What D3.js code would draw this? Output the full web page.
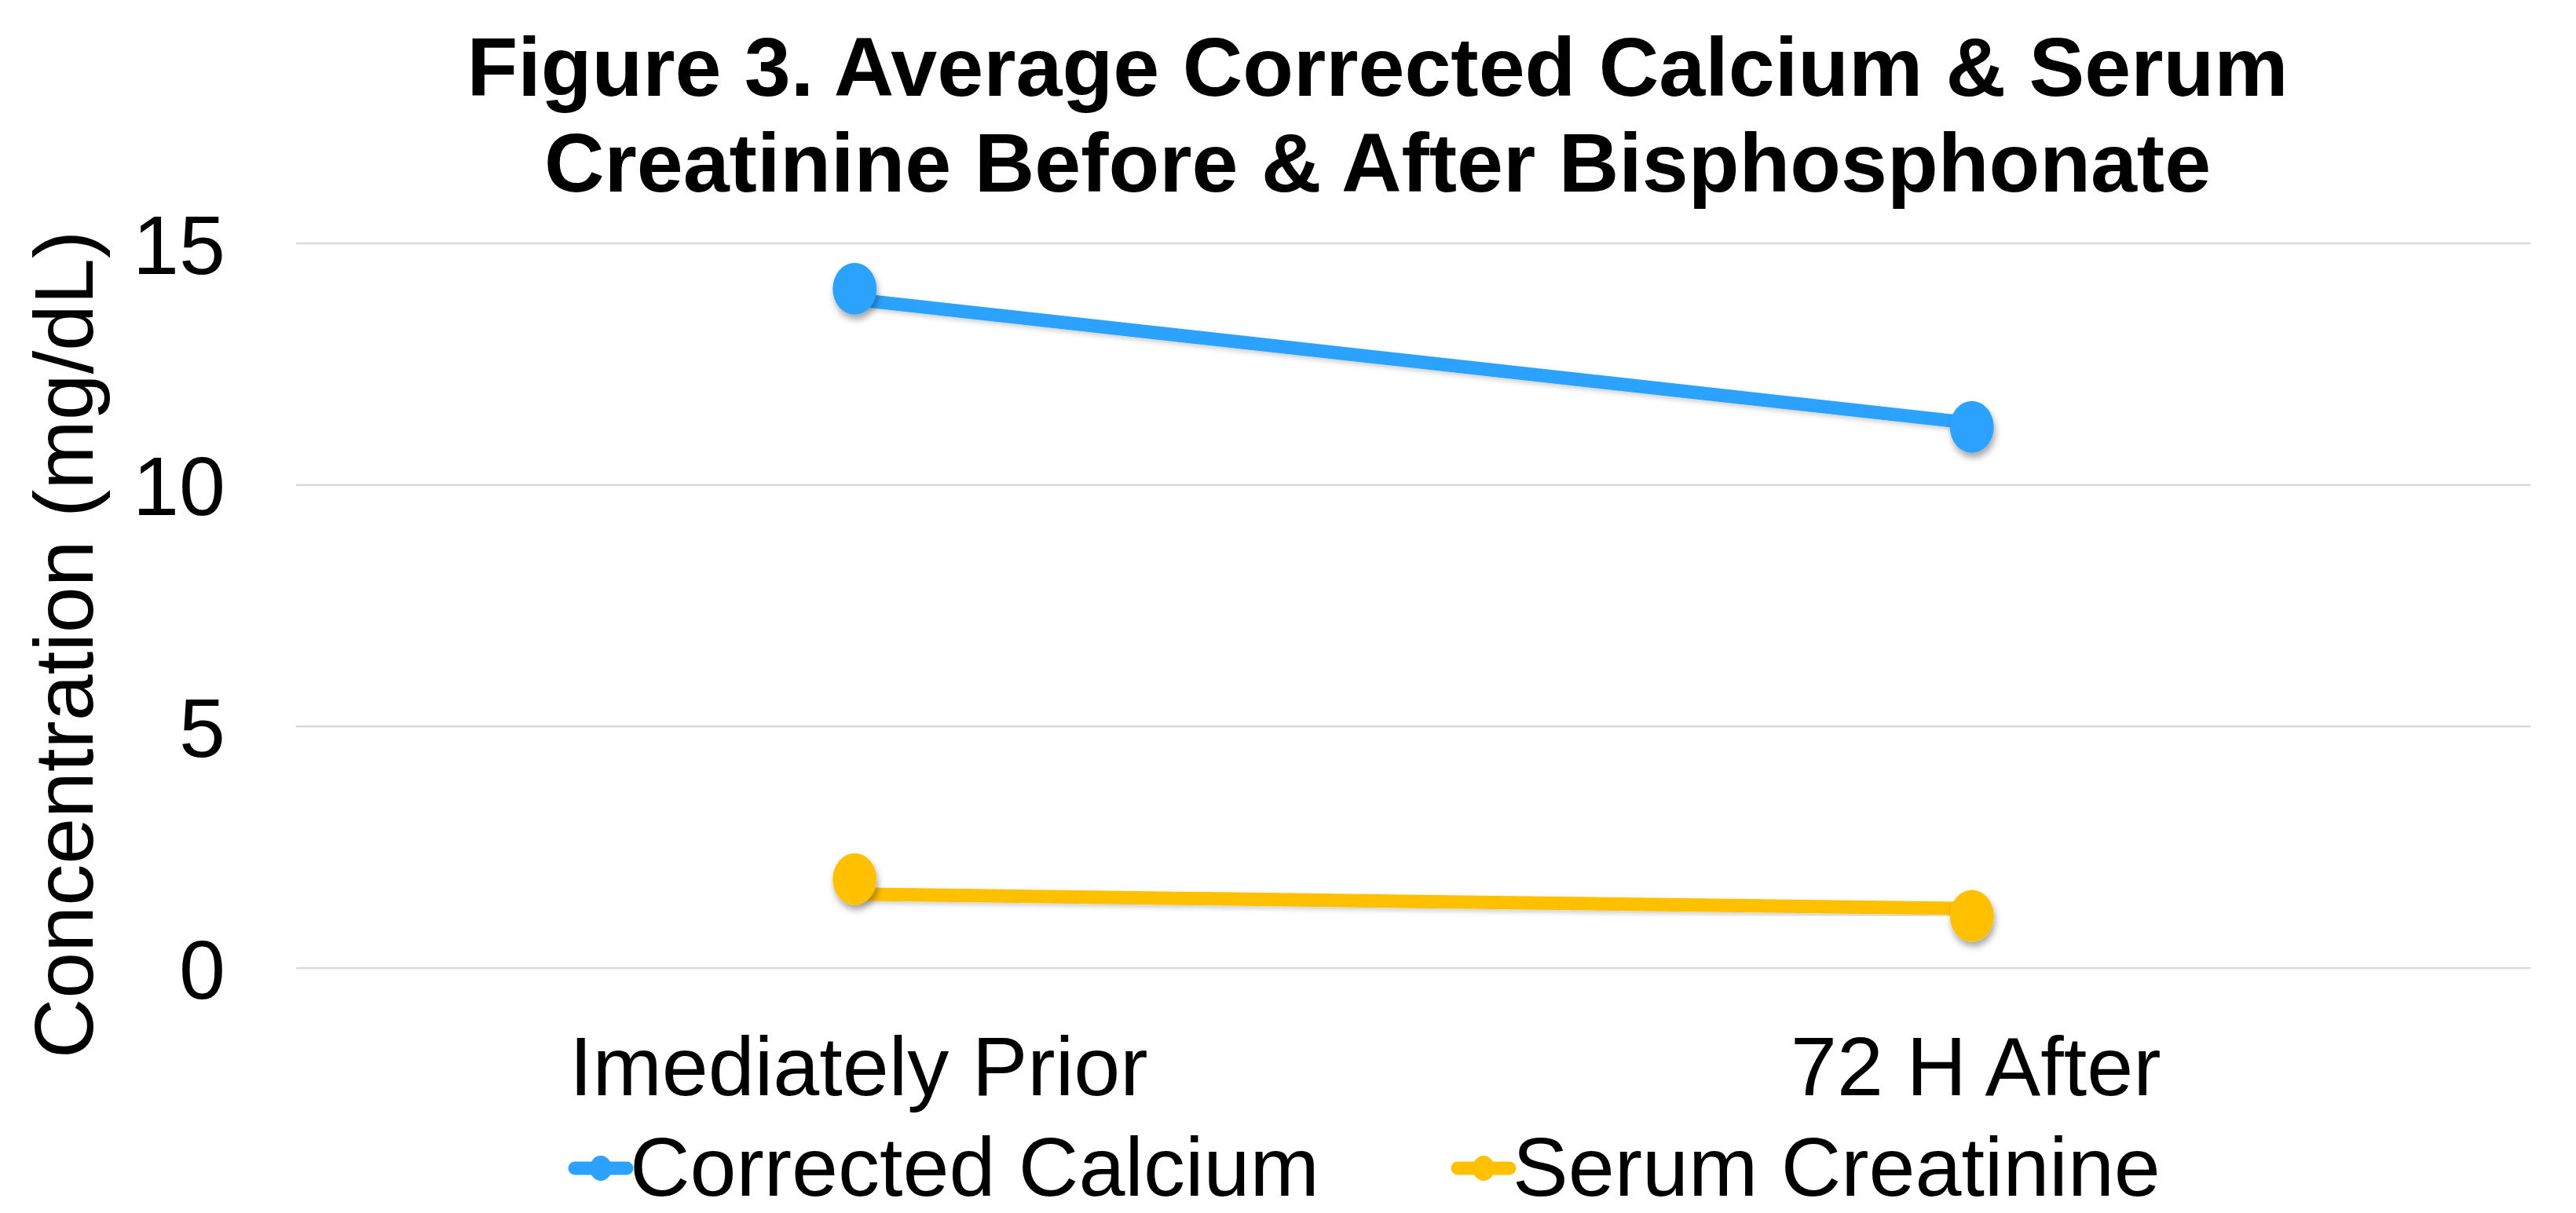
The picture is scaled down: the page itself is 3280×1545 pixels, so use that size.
<!DOCTYPE html>
<html>
<head>
<meta charset="utf-8">
<script src="https://cdn.jsdelivr.net/npm/d3@7"></script>
<style>
  html, body { margin: 0; padding: 0; background: #ffffff; }
  svg { display: block; }
  text { font-family: "Liberation Sans", Arial, sans-serif; fill: #000; }
</style>
</head>
<body>
<svg id="chart" width="3280" height="1545"></svg>
<script>
// ---- data ----
const categories = ["Imediately Prior", "72 H After"];
const seriesNames = ["Corrected Calcium", "Serum Creatinine"];
const seriesColors = ["#2CA2FE", "#FFC000"];
// line values
const calciumLine = [13.84, 11.28];
const creatinineLine = [1.53, 1.23];
// marker values (markers are drawn slightly off the line in the original)
const calciumMarkers = [14.06, 11.20];
const creatinineMarkers = [1.84, 1.08];
const yTicks = [0, 5, 10, 15];
const titleLines = ["Figure 3. Average Corrected Calcium & Serum", "Creatinine Before & After Bisphosphonate"];
const yTitle = "Concentration (mg/dL)";

const series = [
  { name: seriesNames[0], color: seriesColors[0], line: calciumLine, markers: calciumMarkers },
  { name: seriesNames[1], color: seriesColors[1], line: creatinineLine, markers: creatinineMarkers }
];

// ---- layout ----
const W = 3280, H = 1545;
const plot = { left: 377, right: 3222, top: 310, bottom: 1233 };

const svg = d3.select("#chart");

const defs = svg.append("defs");
const f = defs.append("filter").attr("id", "shadow")
  .attr("x", "-50%").attr("y", "-50%").attr("width", "200%").attr("height", "200%");
f.append("feDropShadow").attr("dx", 2).attr("dy", 6).attr("stdDeviation", 4)
  .attr("flood-color", "#000").attr("flood-opacity", 0.35);
const fl = defs.append("filter").attr("id", "lshadow")
  .attr("x", "-10%").attr("y", "-50%").attr("width", "120%").attr("height", "200%");
fl.append("feDropShadow").attr("dx", 1).attr("dy", 3).attr("stdDeviation", 3)
  .attr("flood-color", "#000").attr("flood-opacity", 0.2);

const x = d3.scaleBand().domain(categories).range([plot.left, plot.right]).padding(0);
const y = d3.scaleLinear().domain([0, 15]).range([plot.bottom, plot.top]);
const cx = c => x(c) + x.bandwidth() / 2;

// gridlines
svg.append("g").selectAll("line").data(yTicks).join("line")
  .attr("x1", plot.left).attr("x2", plot.right)
  .attr("y1", d => y(d)).attr("y2", d => y(d))
  .attr("stroke", "#d9d9d9").attr("stroke-width", 2.5);

// y axis tick labels
const yAxis = d3.axisLeft(y).tickValues(yTicks).tickSize(0).tickPadding(0).tickFormat(d3.format("d"));
const yg = svg.append("g").attr("transform", `translate(287,0)`).call(yAxis);
yg.select(".domain").remove();
yg.selectAll("text").style("font-size", "106px").attr("fill", "#000")
  .style("font-family", '"Liberation Sans", Arial, sans-serif').attr("dy", "0.36em");

// x axis labels
const xAxis = d3.axisBottom(x).tickSize(0).tickPadding(0);
const xg = svg.append("g").attr("transform", `translate(0,1395)`).call(xAxis);
xg.select(".domain").remove();
xg.selectAll("text").style("font-size", "106px").attr("fill", "#000")
  .style("font-family", '"Liberation Sans", Arial, sans-serif').attr("dy", 0).attr("dx", 5);

// lines
const lineGen = d3.line().x((d, i) => cx(categories[i])).y(d => y(d));
svg.append("g").selectAll("path").data(series).join("path")
  .attr("d", s => lineGen(s.line))
  .attr("fill", "none").attr("stroke", s => s.color)
  .attr("stroke-width", 17).attr("stroke-linecap", "round")
  .attr("filter", "url(#lshadow)");

// markers
series.forEach(s => {
  svg.append("g").selectAll("ellipse").data(s.markers).join("ellipse")
    .attr("cx", (d, i) => cx(categories[i]))
    .attr("cy", d => y(d))
    .attr("rx", 28).attr("ry", 33)
    .attr("fill", s.color)
    .attr("filter", "url(#shadow)");
});

// title
svg.append("g").selectAll("text").data(titleLines).join("text")
  .attr("x", 1754).attr("y", (d, i) => 122 + i * 122)
  .attr("text-anchor", "middle")
  .style("font-size", "106px").style("font-weight", "bold")
  .text(d => d);

// y axis title
svg.append("text")
  .attr("transform", `translate(118,821) rotate(-90)`)
  .attr("text-anchor", "middle")
  .style("font-size", "106px")
  .text(yTitle);

// legend
const legendItems = [
  { s: series[0], lx: 732, tx: 802 },
  { s: series[1], lx: 1856, tx: 1926 }
];
const lg = svg.append("g");
legendItems.forEach(it => {
  lg.append("line").attr("x1", it.lx).attr("x2", it.lx + 66)
    .attr("y1", 1488).attr("y2", 1488)
    .attr("stroke", it.s.color).attr("stroke-width", 17).attr("stroke-linecap", "round");
  lg.append("ellipse").attr("cx", it.lx + 33).attr("cy", 1488)
    .attr("rx", 14).attr("ry", 16).attr("fill", it.s.color);
  lg.append("text").attr("x", it.tx).attr("y", 1523)
    .style("font-size", "106px").text(it.s.name);
});
</script>
</body>
</html>
